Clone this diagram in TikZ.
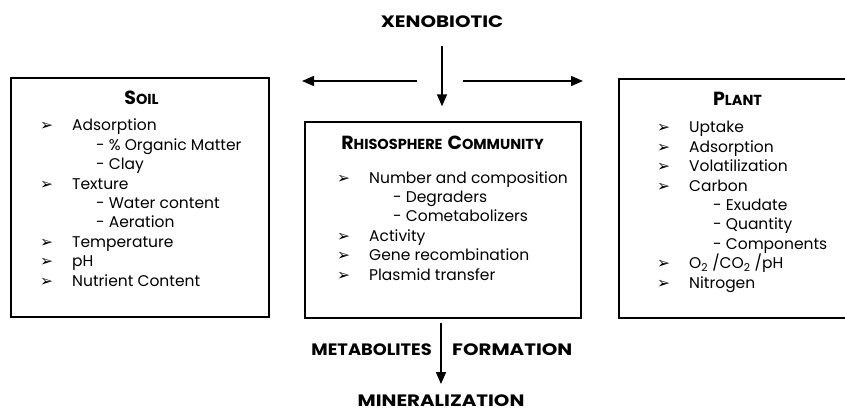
\documentclass[tikz,border=0pt]{standalone}
\usepackage{fontspec}
\setmainfont{Poppins}
\newfontfamily\symfont{DejaVu Sans}
\usetikzlibrary{arrows.meta}

% bullet, sub item and fake small caps
\newcommand{\itm}{\makebox[32pt][l]{\symfont ➢}}
\newcommand{\sbi}{\hspace*{56pt}}
\newcommand{\capsc}[2]{{\fontsize{19}{19}\selectfont #1}{\fontsize{14.5}{14.5}\selectfont #2}}

\tikzset{
  box/.style={draw, line width=1.4pt, inner sep=0pt},
  list/.style={align=left, anchor=base west, inner sep=0pt,
    font=\fontsize{15.5}{19.4}\selectfont},
  title/.style={anchor=base, inner sep=0pt, font=\bfseries},
  head/.style={anchor=base, inner sep=0pt, xscale=1.2, transform shape,
    font=\bfseries\fontsize{16.5}{16.5}\selectfont},
  arr/.style={-{Triangle[length=12pt,width=10pt]}, line width=1.5pt}
}

\begin{document}
\begin{tikzpicture}[x=1pt,y=-1pt]
  \useasboundingbox (0,0) rectangle (845,412);

  % the three boxes
  \node[box, minimum width=258pt, minimum height=239pt] (soil) at (140,197.5) {};
  \node[box, minimum width=276pt, minimum height=196pt] (comm) at (443,220) {};
  \node[box, minimum width=228pt, minimum height=239pt] (plant) at (733,198.5) {};

  \node[title] (soilt) at (141.5,104) {\capsc{S}{OIL}};
  \node[title] (commt) at (442.5,149) {\capsc{R}{HISOSPHERE}\hspace{5pt}\capsc{C}{OMMUNITY}};
  \node[title] (plantt) at (737.5,105) {\capsc{P}{LANT}};

  % lists, placed by the baseline of their last line
  \node[list] (soill) at (40,286) {\itm Adsorption\\
    \sbi - \% Organic Matter\\
    \sbi - Clay\\
    \itm Texture\\
    \sbi - Water content\\
    \sbi - Aeration\\
    \itm Temperature\\
    \itm pH\\
    \itm Nutrient Content};

  \node[list] (comml) at (337,280) {\itm Number and composition\\
    \sbi - Degraders\\
    \sbi - Cometabolizers\\
    \itm Activity\\
    \itm Gene recombination\\
    \itm Plasmid transfer};

  \node[list] (plantl) at (657,288) {\itm Uptake\\
    \itm Adsorption\\
    \itm Volatilization\\
    \itm Carbon\\
    \sbi - Exudate\\
    \sbi - Quantity\\
    \sbi - Components\\
    \itm O\textsubscript{2} /CO\textsubscript{2} /pH\\
    \itm Nitrogen};

  % headings
  \node[head] (xeno) at (442,28) {XENOBIOTIC};
  \node[head, xscale=0.9, anchor=base east] (metab) at (432,355) {METABOLITES};
  \node[head, anchor=base west] (form) at (452,355) {FORMATION};
  \node[head] (miner) at (441,406) {MINERALIZATION};

  % arrows
  \coordinate (xl) at (417,81);
  \coordinate (xr) at (463,81);
  \coordinate (soilend) at (302,81);
  \coordinate (plantend) at (583,81);
  \draw[arr] (xl) -- (soilend);
  \draw[arr] (xr) -- (plantend);
  \draw[arr, shorten <=18pt, shorten >=15pt] (xeno.south) -- (xeno.south |- comm.north);
  \draw[arr, shorten <=4pt, shorten >=10pt] (comm.south -| miner.north) -- (miner.north);
\end{tikzpicture}
\end{document}
